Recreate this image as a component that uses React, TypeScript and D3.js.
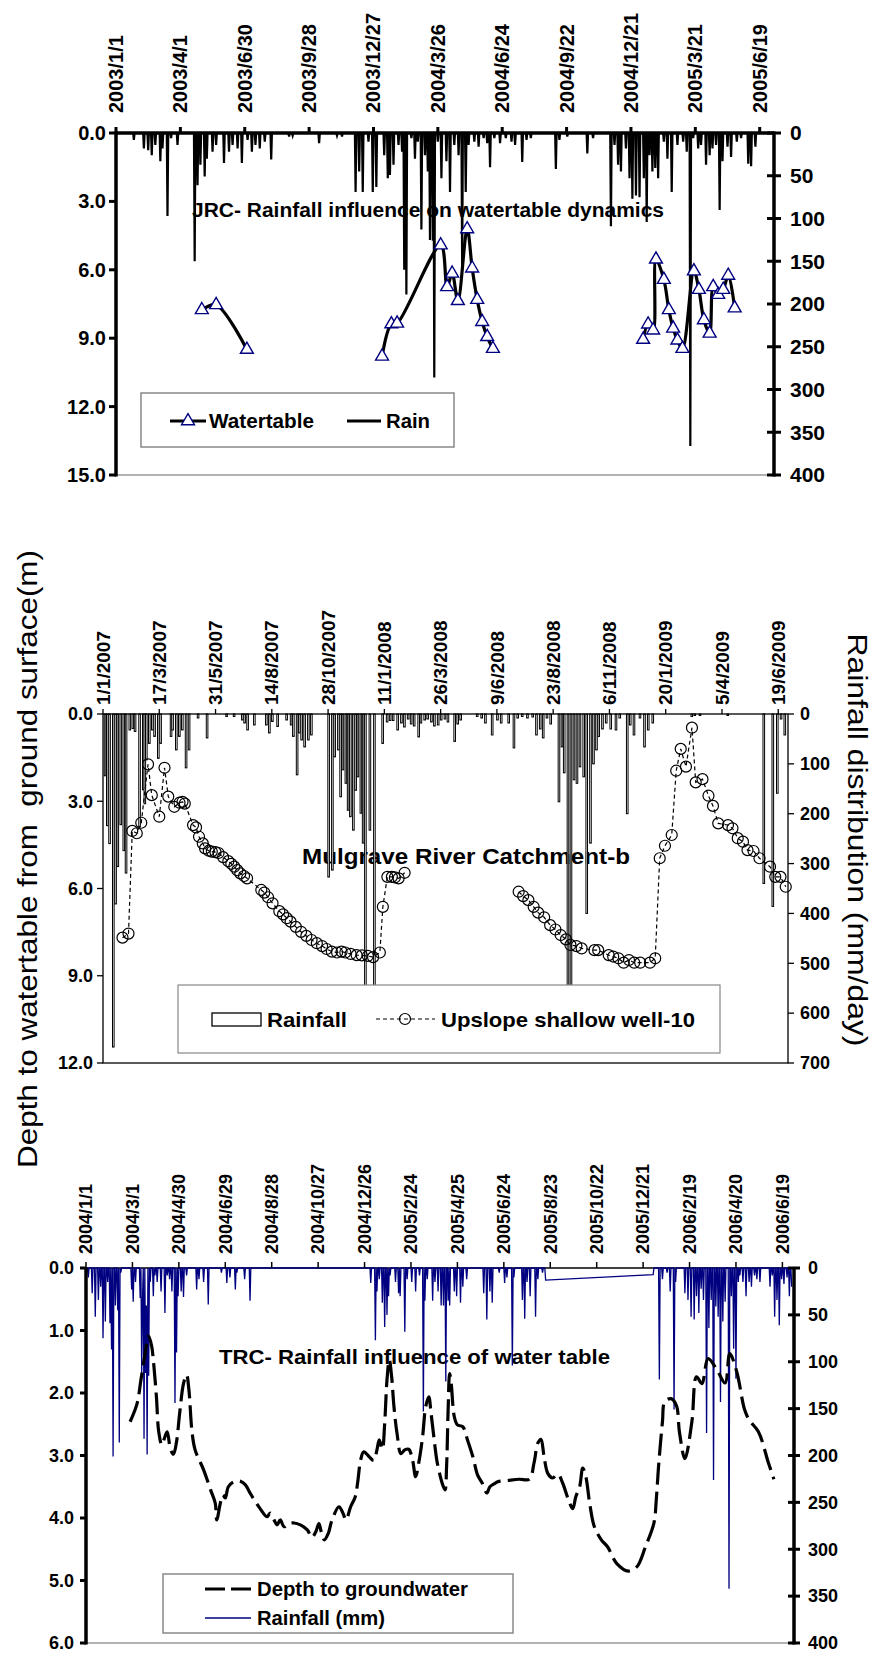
import React from "react";
import * as d3 from "d3";

const FONT = "'Liberation Sans', Arial, sans-serif";
const ymd = d3.timeParse("%Y/%m/%d");
const dmy = d3.timeParse("%d/%m/%Y");
const DAY = 864e5;

// ---------------- JRC panel (top) ----------------
const jrcStartDate = "2003/1/1";
const jrcEndDate = "2005/7/9";
const jrcDateTicks = ["2003/1/1", "2003/4/1", "2003/6/30", "2003/9/28", "2003/12/27", "2004/3/26", "2004/6/24", "2004/9/22", "2004/12/21", "2005/3/21", "2005/6/19"];
const jrcDepthTicks = [0, 3, 6, 9, 12, 15];
const jrcRainTicks = [0, 50, 100, 150, 200, 250, 300, 350, 400];
// watertable depth (m): [days after 2003/1/1, depth]
const jrcWaterA = [[120, 7.76], [140, 7.54], [183, 9.5]];
const jrcWaterB = [[372, 9.8], [385, 8.38], [393, 8.35], [454, 4.92], [463, 6.75], [470, 6.16], [478, 7.36], [491, 4.21], [498, 5.93], [505, 7.31], [512, 8.28], [519, 8.94], [527, 9.46]];
const jrcWaterC = [[737, 9.06], [744, 8.39], [751, 8.65], [755, 5.54], [766, 6.43], [773, 7.76], [779, 8.57], [785, 9.09], [792, 9.46], [808, 6.06], [815, 6.87], [822, 8.2], [830, 8.79], [835, 6.75], [842, 7.09], [849, 6.87], [856, 6.25], [865, 7.68]];
// daily rain (mm) on wet days: [days after 2003/1/1, mm]
const jrcRain = [[25, 8], [39, 18], [45, 20], [50, 26], [55, 14], [62, 33], [65, 18], [72, 97], [77, 6], [86, 14], [110, 150], [114, 61], [118, 37], [124, 51], [127, 30], [135, 22], [140, 14], [151, 35], [158, 22], [163, 14], [170, 18], [176, 35], [184, 8], [190, 22], [195, 14], [201, 18], [208, 10], [217, 31], [242, 4], [247, 3], [284, 12], [309, 3], [316, 4], [335, 69], [340, 45], [345, 69], [353, 10], [359, 69], [364, 63], [375, 26], [380, 53], [383, 49], [388, 37], [395, 14], [400, 22], [403, 160], [406, 189], [413, 6], [418, 30], [422, 10], [427, 113], [432, 26], [436, 45], [439, 125], [443, 126], [445, 286], [450, 10], [455, 53], [462, 33], [467, 69], [473, 14], [479, 26], [484, 160], [489, 69], [493, 14], [501, 10], [507, 16], [514, 6], [519, 12], [523, 40], [529, 6], [537, 12], [545, 6], [553, 10], [558, 14], [568, 34], [574, 8], [580, 6], [615, 42], [620, 8], [631, 4], [659, 24], [667, 6], [692, 109], [697, 14], [702, 37], [706, 45], [713, 18], [718, 53], [722, 77], [727, 73], [732, 75], [738, 53], [742, 104], [746, 26], [750, 45], [754, 41], [758, 53], [766, 10], [771, 30], [777, 69], [785, 14], [793, 10], [798, 22], [803, 366], [807, 6], [814, 18], [818, 14], [825, 37], [830, 26], [834, 18], [839, 14], [844, 90], [848, 33], [855, 16], [860, 28], [868, 10], [874, 6], [884, 36], [888, 39], [894, 16]];

// ---------------- Mulgrave panel (middle) ----------------
const mulStartDate = "1/1/2007";
const mulEndDate = "2/7/2009";
const mulDateTicks = ["1/1/2007", "17/3/2007", "31/5/2007", "14/8/2007", "28/10/2007", "11/1/2008", "26/3/2008", "9/6/2008", "23/8/2008", "6/11/2008", "20/1/2009", "5/4/2009", "19/6/2009"];
const mulDepthTicks = [0, 3, 6, 9, 12];
const mulRainTicks = [0, 100, 200, 300, 400, 500, 600, 700];
// Upslope shallow well-10 depth (m): [days after 1/1/2007, depth]
const mulWellA = [[26, 7.69], [34, 7.55], [39, 4.02], [45, 4.1], [51, 3.74], [60, 1.73], [65, 2.79], [75, 3.53], [82, 1.85], [87, 2.84], [95, 3.19], [102, 3.05], [106, 3.02], [109, 3.08], [120, 3.82], [124, 3.9], [128, 4.22], [133, 4.45], [136, 4.62], [141, 4.7], [145, 4.73], [150, 4.75], [154, 4.78], [160, 4.92], [167, 5.06], [171, 5.15], [175, 5.25], [179, 5.37], [183, 5.48], [188, 5.57], [192, 5.65], [211, 6.05], [215, 6.14], [220, 6.3], [226, 6.51], [235, 6.78], [240, 6.89], [245, 7.02], [250, 7.14], [257, 7.32], [264, 7.49], [271, 7.63], [278, 7.77], [285, 7.88], [292, 7.98], [298, 8.08], [305, 8.17], [312, 8.2], [318, 8.17], [323, 8.2], [330, 8.25], [338, 8.29], [345, 8.3], [353, 8.32], [360, 8.36], [369, 8.2], [373, 6.63], [379, 5.6], [385, 5.6], [389, 5.62], [394, 5.65], [402, 5.46]];
const mulWellB = [[554, 6.11], [560, 6.26], [567, 6.4], [574, 6.63], [580, 6.83], [588, 6.99], [596, 7.26], [603, 7.41], [610, 7.6], [617, 7.75], [623, 7.94], [631, 7.98], [638, 8.06], [655, 8.12], [660, 8.12], [674, 8.29], [680, 8.34], [687, 8.4], [694, 8.55], [701, 8.46], [708, 8.55], [716, 8.55], [729, 8.55], [736, 8.4], [742, 4.96], [749, 4.53], [758, 4.16], [764, 1.95], [770, 1.2], [777, 1.81], [785, 0.47], [790, 2.35], [799, 2.24], [807, 2.81], [813, 3.16], [820, 3.76], [833, 3.82], [839, 3.93], [846, 4.27], [853, 4.39], [859, 4.68], [867, 4.71], [875, 4.96], [889, 5.25], [896, 5.6], [903, 5.6], [910, 5.94]];
// Rainfall (mm/day): [days after 1/1/2007, mm]
const mulRain = [[3, 124], [6, 224], [9, 260], [14, 668], [17, 381], [20, 306], [24, 222], [28, 274], [31, 319], [36, 32], [40, 29], [43, 35], [49, 226], [54, 152], [56, 180], [58, 92], [62, 59], [66, 32], [69, 45], [74, 89], [77, 59], [91, 45], [93, 32], [98, 72], [102, 45], [106, 32], [111, 108], [115, 72], [127, 8], [139, 48], [165, 5], [175, 5], [186, 12], [189, 18], [193, 32], [202, 22], [218, 22], [222, 38], [226, 15], [233, 25], [245, 12], [251, 22], [254, 45], [259, 122], [262, 38], [265, 52], [269, 66], [274, 52], [278, 42], [301, 327], [306, 313], [309, 86], [314, 72], [317, 166], [320, 112], [324, 139], [327, 193], [330, 206], [334, 233], [337, 153], [340, 126], [344, 199], [347, 259], [350, 600], [356, 233], [362, 600], [373, 59], [379, 16], [383, 13], [387, 13], [393, 32], [398, 18], [402, 26], [407, 10], [411, 20], [415, 24], [421, 46], [424, 18], [429, 12], [433, 10], [438, 16], [442, 24], [447, 22], [451, 12], [456, 10], [460, 16], [469, 55], [473, 20], [477, 12], [499, 5], [505, 8], [510, 18], [519, 42], [526, 12], [531, 18], [541, 18], [548, 68], [553, 8], [559, 5], [566, 8], [573, 6], [578, 42], [583, 30], [587, 48], [592, 8], [597, 20], [608, 176], [612, 66], [615, 118], [620, 600], [624, 600], [628, 132], [632, 139], [636, 106], [641, 126], [645, 400], [650, 259], [654, 100], [658, 72], [661, 45], [666, 30], [671, 18], [677, 30], [684, 32], [689, 8], [699, 200], [703, 22], [708, 42], [716, 8], [722, 66], [727, 32], [733, 18], [785, 5], [789, 3], [796, 3], [833, 3], [881, 340], [893, 386], [899, 159], [904, 10], [909, 42]];

// ---------------- TRC panel (bottom) ----------------
const trcStartDate = "2004/1/1";
const trcEndDate = "2006/7/4";
const trcDateTicks = ["2004/1/1", "2004/3/1", "2004/4/30", "2004/6/29", "2004/8/28", "2004/10/27", "2004/12/26", "2005/2/24", "2005/4/25", "2005/6/24", "2005/8/23", "2005/10/22", "2005/12/21", "2006/2/19", "2006/4/20", "2006/6/19"];
const trcDepthTicks = [0, 1, 2, 3, 4, 5, 6];
const trcRainTicks = [0, 50, 100, 150, 200, 250, 300, 350, 400];
// Depth to groundwater (m): [days after 2004/1/1, depth]
const trcDepth = [[57, 2.46], [66, 2.17], [71, 1.79], [76, 1.4], [81, 1.09], [85, 1.26], [87, 1.47], [91, 2.06], [94, 2.62], [98, 2.83], [102, 2.7], [105, 2.62], [109, 2.89], [113, 2.98], [117, 2.78], [121, 2.33], [126, 1.85], [130, 1.71], [133, 1.95], [137, 2.62], [141, 2.91], [152, 3.23], [161, 3.55], [167, 3.76], [169, 4.03], [174, 3.74], [177, 3.63], [180, 3.68], [184, 3.5], [191, 3.42], [199, 3.41], [206, 3.47], [212, 3.6], [219, 3.74], [225, 3.85], [234, 3.98], [238, 3.92], [243, 4.03], [247, 4.11], [251, 4.03], [256, 4.14], [262, 4.09], [269, 4.08], [277, 4.11], [286, 4.19], [292, 4.31], [297, 4.22], [301, 4.09], [304, 4.22], [308, 4.35], [313, 4.25], [318, 4.03], [327, 3.82], [332, 3.92], [336, 4.03], [342, 3.82], [348, 3.66], [351, 3.44], [355, 3.07], [359, 2.94], [366, 3.02], [372, 3.08], [376, 2.91], [379, 2.75], [383, 2.9], [386, 2.49], [389, 1.79], [392, 1.47], [395, 1.74], [398, 2.22], [402, 2.65], [407, 2.97], [412, 2.91], [417, 2.9], [422, 3.07], [426, 3.34], [430, 3.12], [435, 2.7], [439, 2.22], [443, 2.06], [446, 2.33], [450, 2.75], [454, 3.12], [461, 3.47], [464, 3.55], [466, 3.18], [468, 2.27], [470, 1.69], [472, 1.85], [476, 2.38], [480, 2.51], [487, 2.54], [493, 2.75], [500, 3.02], [506, 3.31], [512, 3.44], [518, 3.6], [522, 3.5], [528, 3.45], [532, 3.42], [545, 3.4], [560, 3.38], [573, 3.38], [579, 3.12], [584, 2.8], [588, 2.74], [592, 3.02], [597, 3.29], [603, 3.36], [610, 3.3], [616, 3.44], [623, 3.69], [629, 3.85], [633, 3.66], [638, 3.5], [642, 3.2], [646, 3.34], [651, 3.77], [657, 4.14], [666, 4.35], [674, 4.46], [686, 4.73], [701, 4.85], [712, 4.78], [723, 4.46], [734, 4.08], [737, 3.71], [740, 3.17], [745, 2.46], [748, 2.14], [756, 2.09], [763, 2.2], [767, 2.63], [774, 3.05], [783, 2.46], [789, 1.74], [796, 1.85], [804, 1.45], [815, 1.62], [826, 1.84], [832, 1.37], [841, 1.66], [851, 2.26], [857, 2.43], [869, 2.62], [882, 3.12], [889, 3.38]];
// Rainfall (mm): [days after 2004/1/1, mm]; no record between day 594 and 733
const trcRain = [[3, 10], [8, 27], [12, 52], [16, 34], [19, 20], [22, 75], [25, 57], [28, 15], [31, 59], [33, 87], [35, 201], [38, 40], [41, 45], [43, 186], [45, 5], [59, 23], [61, 36], [64, 15], [70, 32], [72, 112], [73, 35], [75, 182], [77, 112], [78, 40], [79, 199], [81, 115], [83, 15], [87, 30], [89, 8], [92, 15], [97, 25], [102, 48], [105, 8], [108, 12], [111, 25], [115, 144], [117, 90], [119, 30], [123, 25], [126, 31], [130, 8], [143, 23], [146, 12], [152, 15], [158, 39], [175, 5], [182, 16], [186, 10], [193, 23], [195, 5], [205, 12], [212, 35], [368, 16], [374, 77], [376, 25], [379, 12], [383, 37], [386, 63], [389, 50], [391, 30], [393, 8], [400, 15], [404, 27], [406, 30], [412, 68], [415, 12], [421, 15], [426, 25], [431, 8], [436, 153], [438, 35], [441, 12], [448, 35], [451, 15], [455, 25], [459, 40], [462, 40], [465, 121], [468, 35], [470, 40], [476, 25], [479, 30], [484, 37], [487, 20], [492, 12], [514, 27], [518, 55], [522, 25], [525, 37], [534, 5], [541, 16], [544, 10], [551, 104], [553, 10], [564, 34], [567, 54], [570, 15], [574, 30], [581, 52], [584, 12], [590, 5], [594, 13], [733, 7], [741, 119], [745, 12], [751, 5], [755, 25], [760, 151], [762, 15], [774, 27], [778, 34], [782, 52], [786, 55], [789, 30], [792, 48], [795, 22], [798, 34], [802, 176], [805, 64], [808, 34], [811, 226], [814, 41], [817, 52], [820, 143], [823, 57], [826, 36], [831, 342], [834, 30], [837, 86], [840, 118], [843, 15], [845, 8], [849, 15], [853, 30], [857, 15], [860, 20], [864, 8], [867, 12], [871, 15], [884, 20], [887, 8], [890, 52], [893, 34], [896, 61], [899, 12], [902, 17], [906, 10], [909, 30], [912, 20]];
const trcRainGap = [594, 733];

// wet-day records -> daily series (dry days are 0), skipping days with no record
function dailySeries(events: number[][], from: number, to: number, gap?: number[]) {
  const byDay = new Map(events.map((e) => [e[0], e[1]]));
  const out: number[][] = [];
  for (let d = from; d <= to; d++) {
    if (gap && d > gap[0] && d < gap[1]) continue;
    out.push([d, byDay.get(d) ?? 0]);
  }
  return out;
}

function RotLabel({ x, y, text, size }: { x: number; y: number; text: string; size: number }) {
  return (
    <text transform={`translate(${x},${y}) rotate(-90)`} dy="0.35em" fontSize={size} fontWeight="bold" textAnchor="start">
      {text}
    </text>
  );
}

function JrcPanel() {
  const L = 116, R = 774, T = 133, B = 475;
  const start = ymd(jrcStartDate)!;
  const x = d3.scaleTime().domain([start, ymd(jrcEndDate)!]).range([L, R]);
  const dx = (d: number) => x(new Date(start.getTime() + d * DAY));
  const y = d3.scaleLinear().domain([0, 15]).range([T, B]);
  const yr = d3.scaleLinear().domain([0, 400]).range([T, B]);
  const rain = dailySeries(jrcRain, 0, 905);
  const rainLine = d3.line<number[]>().x((d) => dx(d[0])).y((d) => yr(d[1]));
  const waterLine = d3.line<number[]>().x((d) => dx(d[0])).y((d) => y(d[1])).curve(d3.curveCatmullRom);
  const tri = d3.symbol().type(d3.symbolTriangle).size(72)() || "";
  const segs = [jrcWaterA, jrcWaterB, jrcWaterC];
  return (
    <g>
      <text x={192} y={217} fontSize={20} fontWeight="bold" textLength={472} lengthAdjust="spacingAndGlyphs">
        JRC- Rainfall influence on watertable dynamics
      </text>
      <line x1={L} x2={R} y1={B} y2={B} stroke="#999" strokeWidth={1.5} />
      <path d={rainLine(rain) || ""} fill="none" stroke="#000" strokeWidth={2.2} />
      {segs.map((s, i) => (
        <path key={i} d={waterLine(s) || ""} fill="none" stroke="#000" strokeWidth={3.2} />
      ))}
      {segs.flat().map((p, i) => (
        <path key={i} d={tri} transform={`translate(${dx(p[0])},${y(p[1])})`} fill="#fff" stroke="#000080" strokeWidth={1.4} />
      ))}
      <line x1={L} x2={R} y1={T} y2={T} stroke="#000" strokeWidth={3.5} />
      <line x1={L} x2={L} y1={T - 1.5} y2={B + 1.5} stroke="#000" strokeWidth={3.5} />
      <line x1={R} x2={R} y1={T - 1.5} y2={B + 1.5} stroke="#000" strokeWidth={3.5} />
      {jrcDateTicks.map((t) => {
        const px = x(ymd(t)!);
        return (
          <g key={t}>
            <line x1={px} x2={px} y1={T - 6} y2={T} stroke="#000" strokeWidth={3} />
            <RotLabel x={px} y={T - 20} text={t} size={20} />
          </g>
        );
      })}
      {jrcDepthTicks.map((v) => (
        <g key={v}>
          <line x1={L - 7} x2={L} y1={y(v)} y2={y(v)} stroke="#000" strokeWidth={3} />
          <text x={L - 10} y={y(v)} dy="0.35em" textAnchor="end" fontSize={20} fontWeight="bold">{d3.format(".1f")(v)}</text>
        </g>
      ))}
      {jrcRainTicks.map((v) => (
        <g key={v}>
          <line x1={R - 7} x2={R + 7} y1={yr(v)} y2={yr(v)} stroke="#000" strokeWidth={3} />
          <text x={R + 16} y={yr(v)} dy="0.35em" fontSize={21} fontWeight="bold">{v}</text>
        </g>
      ))}
      <rect x={141} y={393} width={313} height={54} fill="#fff" stroke="#888" strokeWidth={1.5} />
      <line x1={170} x2={206} y1={421} y2={421} stroke="#000" strokeWidth={3.2} />
      <path d={tri} transform="translate(188,421)" fill="#fff" stroke="#000080" strokeWidth={1.4} />
      <text x={209} y={428} fontSize={20} fontWeight="bold" textLength={105} lengthAdjust="spacingAndGlyphs">Watertable</text>
      <line x1={347} x2={381} y1={421} y2={421} stroke="#000" strokeWidth={3} />
      <text x={386} y={428} fontSize={20} fontWeight="bold" textLength={44} lengthAdjust="spacingAndGlyphs">Rain</text>
    </g>
  );
}

function MulgravePanel() {
  const L = 103, R = 788, T = 714, B = 1063;
  const start = dmy(mulStartDate)!;
  const x = d3.scaleTime().domain([start, dmy(mulEndDate)!]).range([L, R]);
  const dx = (d: number) => x(new Date(start.getTime() + d * DAY));
  const y = d3.scaleLinear().domain([0, 12]).range([T, B]);
  const yr = d3.scaleLinear().domain([0, 700]).range([T, B]);
  const wellLine = d3.line<number[]>().x((d) => dx(d[0])).y((d) => y(d[1]));
  const segs = [mulWellA, mulWellB];
  return (
    <g>
      <text x={302} y={864} fontSize={22} fontWeight="bold" textLength={328} lengthAdjust="spacingAndGlyphs">
        Mulgrave River Catchment-b
      </text>
      {mulRain.map((r, i) => (
        <rect key={i} x={dx(r[0]) - 1} y={T} width={1.6} height={yr(r[1]) - T} fill="#fff" stroke="#000" strokeWidth={1} />
      ))}
      <rect x={178} y={985} width={542} height={68} fill="#fff" stroke="#888" strokeWidth={1.2} />
      <rect x={212} y={1013} width={49} height={13} fill="#fff" stroke="#000" strokeWidth={1.3} />
      <text x={267} y={1027} fontSize={21} fontWeight="bold" textLength={80} lengthAdjust="spacingAndGlyphs">Rainfall</text>
      <line x1={376} x2={435} y1={1019} y2={1019} stroke="#000" strokeWidth={1.2} strokeDasharray="4 3" />
      <circle cx={405} cy={1019} r={5.5} fill="none" stroke="#000" strokeWidth={1.2} />
      <text x={441} y={1027} fontSize={21} fontWeight="bold" textLength={254} lengthAdjust="spacingAndGlyphs">Upslope shallow well-10</text>
      {segs.map((s, i) => (
        <path key={i} d={wellLine(s) || ""} fill="none" stroke="#000" strokeWidth={1.2} strokeDasharray="4 3" />
      ))}
      {segs.flat().map((p, i) => (
        <circle key={i} cx={dx(p[0])} cy={y(p[1])} r={5.5} fill="none" stroke="#000" strokeWidth={1.2} />
      ))}
      <rect x={L} y={T} width={R - L} height={B - T} fill="none" stroke="#000" strokeWidth={1.3} />
      {mulDateTicks.map((t) => {
        const px = x(dmy(t)!);
        return (
          <g key={t}>
            <line x1={px} x2={px} y1={T - 5} y2={T} stroke="#000" strokeWidth={1.3} />
            <RotLabel x={px} y={T - 9} text={t} size={19} />
          </g>
        );
      })}
      {mulDepthTicks.map((v) => (
        <g key={v}>
          <line x1={L - 6} x2={L} y1={y(v)} y2={y(v)} stroke="#000" strokeWidth={1.3} />
          <text x={L - 10} y={y(v)} dy="0.35em" textAnchor="end" fontSize={18} fontWeight="bold">{d3.format(".1f")(v)}</text>
        </g>
      ))}
      {mulRainTicks.map((v) => (
        <g key={v}>
          <line x1={R} x2={R + 6} y1={yr(v)} y2={yr(v)} stroke="#000" strokeWidth={1.3} />
          <text x={R + 12} y={yr(v)} dy="0.35em" fontSize={18} fontWeight="bold">{v}</text>
        </g>
      ))}
    </g>
  );
}

function TrcPanel() {
  const L = 86, R = 794, T = 1268, B = 1643;
  const start = ymd(trcStartDate)!;
  const x = d3.scaleTime().domain([start, ymd(trcEndDate)!]).range([L, R]);
  const dx = (d: number) => x(new Date(start.getTime() + d * DAY));
  const y = d3.scaleLinear().domain([0, 6]).range([T, B]);
  const yr = d3.scaleLinear().domain([0, 400]).range([T, B]);
  const rain = dailySeries(trcRain, 0, 912, trcRainGap);
  const rainLine = d3.line<number[]>().x((d) => dx(d[0])).y((d) => yr(d[1]));
  const depthLine = d3.line<number[]>().x((d) => dx(d[0])).y((d) => y(d[1])).curve(d3.curveCatmullRom);
  return (
    <g>
      <text x={219} y={1364} fontSize={21} fontWeight="bold" textLength={391} lengthAdjust="spacingAndGlyphs">
        TRC- Rainfall influence of water table
      </text>
      <line x1={L} x2={R} y1={B} y2={B} stroke="#999" strokeWidth={1.5} />
      <line x1={L} x2={R} y1={T} y2={T} stroke="#000" strokeWidth={1.5} />
      <path d={rainLine(rain) || ""} fill="none" stroke="#000080" strokeWidth={1.3} />
      <path d={depthLine(trcDepth) || ""} fill="none" stroke="#000" strokeWidth={3.2} strokeDasharray="22 7" />
      <line x1={L} x2={L} y1={T} y2={B + 1.5} stroke="#000" strokeWidth={3.5} />
      <line x1={R} x2={R} y1={T} y2={B + 1.5} stroke="#000" strokeWidth={3.5} />
      {trcDateTicks.map((t) => {
        const px = x(ymd(t)!);
        return (
          <g key={t}>
            <line x1={px} x2={px} y1={T - 6} y2={T} stroke="#000" strokeWidth={1.5} />
            <RotLabel x={px} y={T - 14} text={t} size={18} />
          </g>
        );
      })}
      {trcDepthTicks.map((v) => (
        <g key={v}>
          <line x1={L - 6} x2={L} y1={y(v)} y2={y(v)} stroke="#000" strokeWidth={3} />
          <text x={L - 12} y={y(v)} dy="0.35em" textAnchor="end" fontSize={18} fontWeight="bold">{d3.format(".1f")(v)}</text>
        </g>
      ))}
      {trcRainTicks.map((v) => (
        <g key={v}>
          <line x1={R - 6} x2={R + 6} y1={yr(v)} y2={yr(v)} stroke="#000" strokeWidth={3} />
          <text x={R + 14} y={yr(v)} dy="0.35em" fontSize={18} fontWeight="bold">{v}</text>
        </g>
      ))}
      <rect x={163} y={1574} width={350} height={59} fill="#fff" stroke="#888" strokeWidth={1.5} />
      <line x1={205} x2={251} y1={1589} y2={1589} stroke="#000" strokeWidth={3.2} strokeDasharray="20 6" />
      <text x={257} y={1596} fontSize={20} fontWeight="bold" textLength={211} lengthAdjust="spacingAndGlyphs">Depth to groundwater</text>
      <line x1={205} x2={251} y1={1618} y2={1618} stroke="#000080" strokeWidth={1.5} />
      <text x={257} y={1625} fontSize={20} fontWeight="bold" textLength={128} lengthAdjust="spacingAndGlyphs">Rainfall (mm)</text>
    </g>
  );
}

export default function App() {
  return (
    <div style={{ position: "absolute", left: 0, top: 0, width: 885, height: 1657, background: "#fff" }}>
      <svg width={885} height={1657} viewBox="0 0 885 1657" style={{ display: "block", fontFamily: FONT }}>
        <rect width={885} height={1657} fill="#fff" />
        <JrcPanel />
        <MulgravePanel />
        <TrcPanel />
        <text transform="translate(27,859) rotate(-90)" dy="0.35em" textAnchor="middle" fontSize={28} textLength={618} lengthAdjust="spacingAndGlyphs" style={{ whiteSpace: "pre" }}>
          Depth to watertable from  ground surface(m)
        </text>
        <text transform="translate(858,840) rotate(90)" dy="0.35em" textAnchor="middle" fontSize={28} textLength={413} lengthAdjust="spacingAndGlyphs">
          Rainfall distribution (mm/day)
        </text>
      </svg>
    </div>
  );
}
